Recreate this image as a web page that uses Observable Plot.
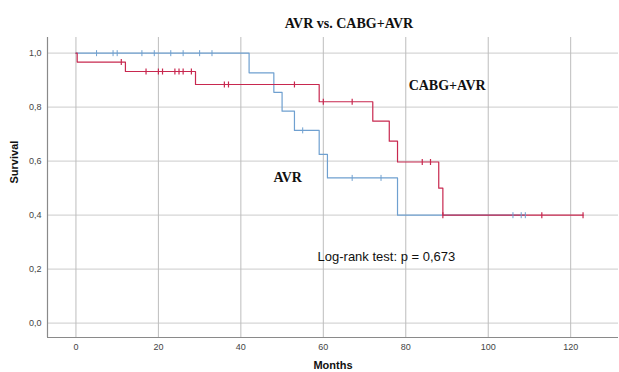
<!DOCTYPE html>
<html>
<head>
<meta charset="utf-8">
<script src="https://cdn.jsdelivr.net/npm/d3@7"></script>
<script src="https://cdn.jsdelivr.net/npm/@observablehq/plot@0.6"></script>
<style>
  html, body { margin: 0; padding: 0; background: #fff; }
  #chart { width: 619px; height: 372px; }
</style>
</head>
<body>
<div id="chart"></div>
<script>
// Kaplan–Meier step data
const avrTimes   = [0, 42, 48, 50, 53, 59, 61, 78, 109];
const avrSurv    = [1.0, 0.927, 0.855, 0.785, 0.714, 0.625, 0.538, 0.40, 0.40];
const avrCensor  = [5, 9, 10, 16, 19, 23, 26, 30, 33, 55, 67, 74, 106, 108, 109];

const cabgTimes  = [0, 0.3, 12, 29, 59, 72, 76, 78, 88, 89, 123];
const cabgSurv   = [1.0, 0.967, 0.932, 0.884, 0.820, 0.748, 0.674, 0.597, 0.50, 0.40, 0.40];
const cabgCensor = [11, 17, 20, 21, 24, 25, 26, 28, 36, 37, 53, 60, 67, 84, 86, 89, 113, 123];

const xTicks = [0, 20, 40, 60, 80, 100, 120];
const yTicks = [0, 0.2, 0.4, 0.6, 0.8, 1.0];

const title = "AVR vs. CABG+AVR";
const xLabel = "Months";
const yLabel = "Survival";
const groupLabels = ["AVR", "CABG+AVR"];
const testText = "Log-rank test: p = 0,673";

const colors = {AVR: "#6fa0d0", CABG: "#c8284f"};

function steps(times, surv) {
  return times.map((t, i) => ({t, s: surv[i]}));
}
function survAt(times, surv, t) {
  let s = surv[0];
  for (let i = 0; i < times.length; i++) if (times[i] <= t) s = surv[i];
  return s;
}
function censors(list, times, surv) {
  return list.map(t => ({t, s: survAt(times, surv, t)}));
}

const avrData = steps(avrTimes, avrSurv);
const cabgData = steps(cabgTimes, cabgSurv);
const avrCens = censors(avrCensor, avrTimes, avrSurv);
const cabgCens = censors(cabgCensor, cabgTimes, cabgSurv);

const tickSymbol = {
  draw(context, size) {
    const h = Math.sqrt(size / Math.PI);
    context.moveTo(0, -h);
    context.lineTo(0, h);
  }
};

const xDomain = [-6.9, 131.6];
const yDomain = [-0.053, 1.058];

const chart = Plot.plot({
  width: 619,
  height: 372,
  marginLeft: 47,
  marginRight: 1,
  marginTop: 37,
  marginBottom: 35,
  style: {background: "#fff", fontFamily: "'Liberation Sans', Arial, sans-serif"},
  x: {domain: xDomain},
  y: {domain: yDomain},
  marks: [
    Plot.gridY(yTicks, {stroke: "#d6d6d6", strokeOpacity: 1, strokeWidth: 1.3}),
    Plot.gridX(xTicks, {stroke: "#bdbdbd", strokeOpacity: 1}),
    Plot.axisY(yTicks, {tickSize: 0, tickPadding: 6, fontSize: 9, fill: "#444",
      tickFormat: d => d.toFixed(1).replace(".", ","), label: null}),
    Plot.axisX(xTicks, {tickSize: 0, tickPadding: 6, fontSize: 9, fill: "#444", label: null}),
    Plot.ruleX([xDomain[0]], {stroke: "#8a8a8a", strokeWidth: 1.2}),
    Plot.ruleY([yDomain[0]], {stroke: "#8a8a8a", strokeWidth: 1.2}),
    Plot.line(avrData, {x: "t", y: "s", curve: "step-after", stroke: colors.AVR, strokeWidth: 1.2}),
    Plot.line(cabgData, {x: "t", y: "s", curve: "step-after", stroke: colors.CABG, strokeWidth: 1.2}),
    Plot.dot(avrCens, {x: "t", y: "s", symbol: tickSymbol, r: 3, stroke: colors.AVR, fill: "none", strokeWidth: 1}),
    Plot.dot(cabgCens, {x: "t", y: "s", symbol: tickSymbol, r: 3, stroke: colors.CABG, fill: "none", strokeWidth: 1.2}),
    Plot.text([groupLabels[1]], {x: 80.7, y: 0.879, text: d => d, textAnchor: "start",
      fontFamily: "'Liberation Serif', 'Times New Roman', serif", fontWeight: "bold", fontSize: 14, fill: "#111"}),
    Plot.text([groupLabels[0]], {x: 47.9, y: 0.538, text: d => d, textAnchor: "start",
      fontFamily: "'Liberation Serif', 'Times New Roman', serif", fontWeight: "bold", fontSize: 14, fill: "#111"}),
    Plot.text([testText], {x: 58.6, y: 0.245, text: d => d, textAnchor: "start",
      fontSize: 13, fill: "#111"}),
    Plot.text([title], {frameAnchor: "top", dx: 16, dy: -19, text: d => d,
      fontFamily: "'Liberation Serif', 'Times New Roman', serif", fontWeight: "bold", fontSize: 14, fill: "#111"}),
    Plot.text([xLabel], {frameAnchor: "bottom", dx: 0, dy: 31, text: d => d,
      fontWeight: "bold", fontSize: 11, fill: "#111"}),
    Plot.text([yLabel], {frameAnchor: "left", dx: -33, dy: -4, rotate: -90, text: d => d,
      fontWeight: "bold", fontSize: 11, fill: "#111"})
  ]
});
document.getElementById("chart").appendChild(chart);
</script>
</body>
</html>
